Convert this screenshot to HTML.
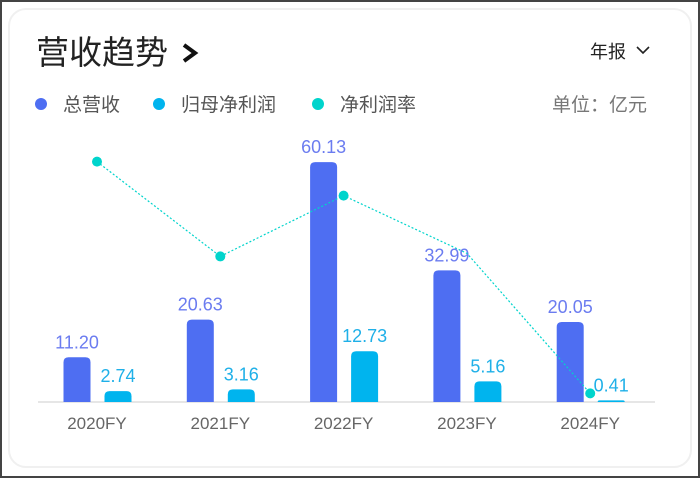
<!DOCTYPE html>
<html><head><meta charset="utf-8"><style>
html,body{margin:0;padding:0;}
body{width:700px;height:478px;background:#fff;font-family:"Liberation Sans","Noto Sans CJK SC",sans-serif;position:relative;overflow:hidden;}
.frame{position:absolute;left:0;top:0;width:696px;height:474px;border:2px solid #444;}
.card{position:absolute;left:8px;top:8px;width:680px;height:456px;border:2px solid #f0f0f0;border-radius:18px;}
svg{position:absolute;left:0;top:0;}
</style></head><body>
<div class="frame"></div>
<div class="card"></div>
<svg width="700" height="478">
<text x="36" y="64" font-size="33" fill="#222">营收趋势</text>
<path d="M184 45 L195 53 L184 61" stroke="#111" stroke-width="4" fill="none"/>
<text x="590" y="58" font-size="18" fill="#222">年报</text>
<path d="M637 47 L643 53 L649 47" stroke="#222" stroke-width="1.6" fill="none"/>
<g font-size="19" fill="#555">
<circle cx="41" cy="104" r="6" fill="#4e6ef2"/>
<text x="63" y="111">总营收</text>
<circle cx="159" cy="104" r="6" fill="#00b4ee"/>
<text x="181" y="111">归母净利润</text>
<circle cx="318" cy="104" r="6" fill="#00d4cc"/>
<text x="340" y="111">净利润率</text>
<text x="552" y="111" fill="#777">单位：亿元</text>
</g>
<line x1="38" y1="402" x2="655" y2="402" stroke="#ddd" stroke-width="1.5"/>
<g id="marks"></g>
</svg>
<script>
const categories=["2020FY","2021FY","2022FY","2023FY","2024FY"];
const revenue=[11.20,20.63,60.13,32.99,20.05];
const profit=[2.74,3.16,12.73,5.16,0.41];
const margin=[24.5,15.3,21.2,15.6,2.0];
const NS="http://www.w3.org/2000/svg";
const g=document.getElementById('marks');
const xC=i=>97+i*123.3;
const yV=v=>402-v*3.99;
const yM=m=>414-m*10.3;
function mk(t,a){const e=document.createElementNS(NS,t);for(const k in a)e.setAttribute(k,a[k]);g.appendChild(e);return e;}
function bar(cx,v,col){const y=yV(v),h=402-y,w=27,r=Math.min(5,h);
 return mk('path',{d:`M${cx-w/2} 402 L${cx-w/2} ${y+r} Q${cx-w/2} ${y} ${cx-w/2+r} ${y} L${cx+w/2-r} ${y} Q${cx+w/2} ${y} ${cx+w/2} ${y+r} L${cx+w/2} 402 Z`,fill:col});}
categories.forEach((c,i)=>{
 const cx=xC(i);
 let b=bar(cx-20,revenue[i],'#4e6ef2');
 
 
 let t=mk('text',{x:cx-20,y:yV(revenue[i])-9,'text-anchor':'middle','font-size':18,fill:'#6b7cf0'});t.textContent=revenue[i].toFixed(2);
 
 
 b=bar(cx+21,profit[i],'#00b4ee');
 
 
 t=mk('text',{x:cx+21,y:yV(profit[i])-9,'text-anchor':'middle','font-size':18,fill:'#1fb0e8'});t.textContent=profit[i].toFixed(2);
 
 
 t=mk('text',{x:cx,y:429,'text-anchor':'middle','font-size':17,fill:'#666'});t.textContent=c;
 
 
});
const pts=margin.map((m,i)=>xC(i)+','+yM(m)).join(' ');
const pl=mk('polyline',{points:pts,fill:'none',stroke:'#00d4cc','stroke-width':1.2,'stroke-dasharray':'2 2'});


margin.forEach((m,i)=>{
 if(i===3)return;
 const d=mk('circle',{cx:xC(i),cy:yM(m),r:5,fill:'#00d4cc'});
 
 
});
</script>
</body></html>
